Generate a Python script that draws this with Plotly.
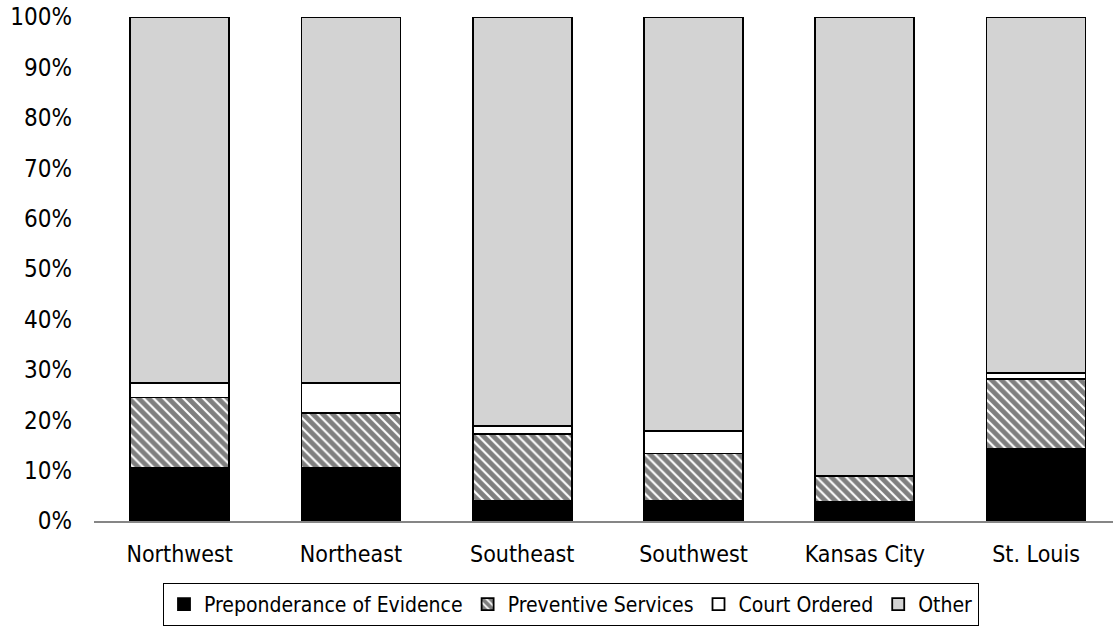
import plotly.graph_objects as go

regions = ["Northwest", "Northeast", "Southeast", "Southwest", "Kansas City", "St. Louis"]
preponderance = [10.5, 10.6, 4.0, 4.0, 3.8, 14.3]
preventive = [14.0, 10.8, 13.2, 9.4, 5.1, 13.9]
court_ordered = [2.9, 6.0, 1.6, 4.5, 0.0, 1.1]
other = [72.6, 72.6, 81.2, 82.1, 91.1, 70.7]
y_ticks = [0, 10, 20, 30, 40, 50, 60, 70, 80, 90, 100]

FONT = "DejaVu Sans Condensed, DejaVu Sans, sans-serif"
line = dict(color="#000000", width=1.8)

fig = go.Figure()
fig.add_trace(go.Bar(name="Preponderance of Evidence", x=regions, y=preponderance,
                     marker=dict(color="#000000", line=line)))
fig.add_trace(go.Bar(name="Preventive Services", x=regions, y=preventive,
                     marker=dict(color="#ffffff", line=line,
                                 pattern=dict(shape="\\", fgcolor="#000000", bgcolor="#ffffff",
                                              size=7, solidity=0.7))))
fig.add_trace(go.Bar(name="Court Ordered", x=regions, y=court_ordered,
                     marker=dict(color="#ffffff", line=line)))
fig.add_trace(go.Bar(name="Other", x=regions, y=other,
                     marker=dict(color="#d3d3d3", line=line)))

fig.update_layout(
    barmode="stack",
    barnorm="percent",
    bargap=0.422,
    width=1113, height=626,
    margin=dict(l=94, r=0, t=17, b=105, autoexpand=False),
    paper_bgcolor="#ffffff", plot_bgcolor="#ffffff",
    font=dict(family=FONT, size=22, color="#000000"),
    showlegend=True,
    legend=dict(orientation="h", x=(571 - 94) / 1019, xanchor="center", y=-0.123, yanchor="top",
                bordercolor="#000000", borderwidth=1, bgcolor="#ffffff",
                font=dict(family=FONT, size=21, color="#000000"),
                traceorder="normal", itemwidth=30),
)
fig.update_yaxes(range=[0, 100], tickvals=y_ticks, ticktext=[f"{v}%" for v in y_ticks],
                 showgrid=False, zeroline=False, showline=False, ticks="",
                 automargin=False, ticklabeloverflow="allow",
                 ticklabelstandoff=21, tickfont=dict(size=24))
fig.update_xaxes(range=[-0.5, 5.449], showgrid=False, showline=True, linecolor="#868686",
                 linewidth=1.5, ticks="", automargin=False, ticklabeloverflow="allow",
                 ticklabelstandoff=12, tickfont=dict(size=23))

fig.write_html("out.html", config={"displayModeBar": False},
               post_script="document.body.style.margin='0';document.body.style.overflow='hidden';")
